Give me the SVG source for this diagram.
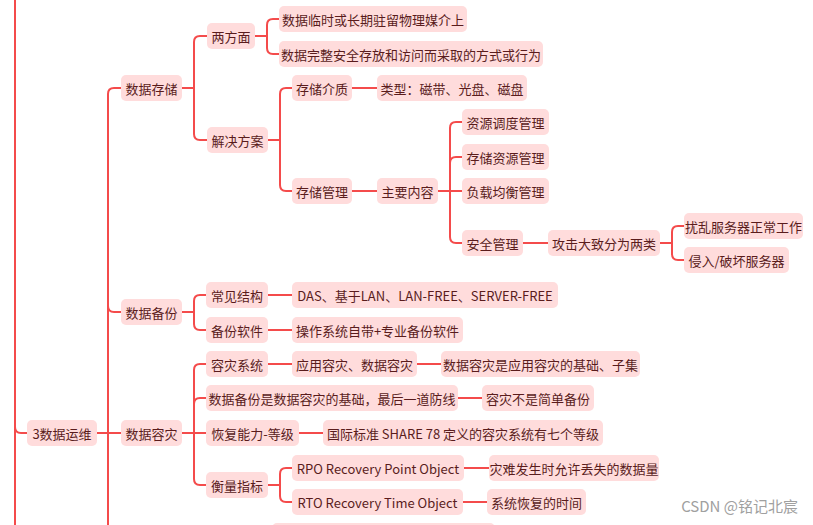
<svg xmlns="http://www.w3.org/2000/svg" width="813" height="525" viewBox="0 0 813 525">
<style>
.n rect{fill:#ffdcdc;}
.n text{font-family:"Noto Sans CJK SC","Liberation Sans",sans-serif;font-size:13px;fill:#5a1c1c;text-anchor:middle;dominant-baseline:central;}
#connectors path{fill:none;stroke:#f44b4b;stroke-width:2;}
.wm{font-family:"Noto Sans CJK SC","Liberation Sans",sans-serif;font-size:15px;fill:#a0a0a0;text-anchor:end;}
</style>
<rect width="813" height="525" fill="#ffffff"/>
<g id="connectors">
<path d="M15 0V525"/>
<path d="M15 427Q15 433 21 433H27"/>
<path d="M97 433H121"/>
<path d="M121 88H114Q108 88 108 94V525"/>
<path d="M108 306Q108 312 114 312H121"/>
<path d="M182 88H194"/>
<path d="M194 88V42Q194 36 200 36H207"/>
<path d="M194 88V134Q194 140 200 140H207"/>
<path d="M255 36H267"/>
<path d="M267 36V25Q267 19 273 19H279"/>
<path d="M267 36V48Q267 54 273 54H279"/>
<path d="M268 140H280"/>
<path d="M280 140V94Q280 88 286 88H292"/>
<path d="M280 140V185Q280 191 286 191H292"/>
<path d="M352 88H377"/>
<path d="M352 191H377"/>
<path d="M438 191H462"/>
<path d="M450 191V128Q450 122 456 122H462"/>
<path d="M450 163Q450 157 456 157H462"/>
<path d="M450 191V237Q450 243 456 243H462"/>
<path d="M523 243H548"/>
<path d="M660 243H672"/>
<path d="M672 243V232Q672 226 678 226H684"/>
<path d="M672 243V254Q672 260 678 260H684"/>
<path d="M182 312H194"/>
<path d="M194 312V301Q194 295 200 295H206"/>
<path d="M194 312V324Q194 330 200 330H206"/>
<path d="M268 295H292"/>
<path d="M268 330H292"/>
<path d="M182 433H206"/>
<path d="M194 433V370Q194 364 200 364H206"/>
<path d="M194 404Q194 398 200 398H206"/>
<path d="M194 433V479Q194 485 200 485H206"/>
<path d="M268 364H292"/>
<path d="M417 364H441"/>
<path d="M458 398H482"/>
<path d="M299 433H323"/>
<path d="M268 485H280"/>
<path d="M280 485V474Q280 468 286 468H292"/>
<path d="M280 485V496Q280 502 286 502H292"/>
<path d="M464 468H489"/>
<path d="M463 502H487"/>
</g>
<g id="n1" class="n"><rect x="27" y="420" width="70" height="26" rx="5"/><text x="62" y="433">3数据运维</text></g>
<g id="n2" class="n"><rect x="121" y="75" width="61" height="26" rx="5"/><text x="151.5" y="88">数据存储</text></g>
<g id="n3" class="n"><rect x="121" y="299" width="61" height="26" rx="5"/><text x="151.5" y="312">数据备份</text></g>
<g id="n4" class="n"><rect x="121" y="420" width="61" height="26" rx="5"/><text x="151.5" y="433">数据容灾</text></g>
<g id="n5" class="n"><rect x="207" y="23" width="48" height="26" rx="5"/><text x="231" y="36">两方面</text></g>
<g id="n6" class="n"><rect x="207" y="127" width="61" height="26" rx="5"/><text x="237.5" y="140">解决方案</text></g>
<g id="n7" class="n"><rect x="279" y="6" width="188" height="26" rx="5"/><text x="373" y="19">数据临时或长期驻留物理媒介上</text></g>
<g id="n8" class="n"><rect x="279" y="41" width="264" height="26" rx="5"/><text x="411" y="54">数据完整安全存放和访问而采取的方式或行为</text></g>
<g id="n9" class="n"><rect x="292" y="75" width="60" height="26" rx="5"/><text x="322" y="88">存储介质</text></g>
<g id="n10" class="n"><rect x="377" y="75" width="150" height="26" rx="5"/><text x="452" y="88">类型：磁带、光盘、磁盘</text></g>
<g id="n11" class="n"><rect x="292" y="178" width="60" height="26" rx="5"/><text x="322" y="191">存储管理</text></g>
<g id="n12" class="n"><rect x="377" y="178" width="61" height="26" rx="5"/><text x="407.5" y="191">主要内容</text></g>
<g id="n13" class="n"><rect x="462" y="109" width="87" height="26" rx="5"/><text x="505.5" y="122">资源调度管理</text></g>
<g id="n14" class="n"><rect x="462" y="144" width="87" height="26" rx="5"/><text x="505.5" y="157">存储资源管理</text></g>
<g id="n15" class="n"><rect x="462" y="178" width="87" height="26" rx="5"/><text x="505.5" y="191">负载均衡管理</text></g>
<g id="n16" class="n"><rect x="462" y="230" width="61" height="26" rx="5"/><text x="492.5" y="243">安全管理</text></g>
<g id="n17" class="n"><rect x="548" y="230" width="112" height="26" rx="5"/><text x="604" y="243">攻击大致分为两类</text></g>
<g id="n18" class="n"><rect x="684" y="213" width="119" height="26" rx="5"/><text x="743.5" y="226">扰乱服务器正常工作</text></g>
<g id="n19" class="n"><rect x="684" y="247" width="105" height="26" rx="5"/><text x="736.5" y="260">侵入/破坏服务器</text></g>
<g id="n20" class="n"><rect x="206" y="282" width="62" height="26" rx="5"/><text x="237" y="295">常见结构</text></g>
<g id="n21" class="n"><rect x="206" y="317" width="62" height="26" rx="5"/><text x="237" y="330">备份软件</text></g>
<g id="n22" class="n"><rect x="292" y="282" width="266" height="26" rx="5"/><text x="425" y="295">DAS、基于LAN、LAN-FREE、SERVER-FREE</text></g>
<g id="n23" class="n"><rect x="292" y="317" width="171" height="26" rx="5"/><text x="377.5" y="330">操作系统自带+专业备份软件</text></g>
<g id="n24" class="n"><rect x="206" y="351" width="62" height="26" rx="5"/><text x="237" y="364">容灾系统</text></g>
<g id="n25" class="n"><rect x="292" y="351" width="125" height="26" rx="5"/><text x="354.5" y="364">应用容灾、数据容灾</text></g>
<g id="n26" class="n"><rect x="441" y="351" width="199" height="26" rx="5"/><text x="540.5" y="364">数据容灾是应用容灾的基础、子集</text></g>
<g id="n27" class="n"><rect x="206" y="385" width="252" height="26" rx="5"/><text x="332" y="398">数据备份是数据容灾的基础，最后一道防线</text></g>
<g id="n28" class="n"><rect x="482" y="385" width="112" height="26" rx="5"/><text x="538" y="398">容灾不是简单备份</text></g>
<g id="n29" class="n"><rect x="206" y="420" width="93" height="26" rx="5"/><text x="252.5" y="433">恢复能力-等级</text></g>
<g id="n30" class="n"><rect x="323" y="420" width="280" height="26" rx="5"/><text x="463" y="433">国际标准 SHARE 78 定义的容灾系统有七个等级</text></g>
<g id="n31" class="n"><rect x="206" y="472" width="62" height="26" rx="5"/><text x="237" y="485">衡量指标</text></g>
<g id="n32" class="n"><rect x="292" y="455" width="172" height="26" rx="5"/><text x="378" y="468">RPO Recovery Point Object</text></g>
<g id="n33" class="n"><rect x="489" y="455" width="170" height="26" rx="5"/><text x="574" y="468">灾难发生时允许丢失的数据量</text></g>
<g id="n34" class="n"><rect x="292" y="489" width="171" height="26" rx="5"/><text x="377.5" y="502">RTO Recovery Time Object</text></g>
<g id="n35" class="n"><rect x="487" y="489" width="99" height="26" rx="5"/><text x="536.5" y="502">系统恢复的时间</text></g>
<g id="n36" class="n"><rect x="272" y="523" width="223" height="26" rx="5"/></g>
<text class="wm" x="798" y="512">CSDN @铭记北宸</text>
</svg>
